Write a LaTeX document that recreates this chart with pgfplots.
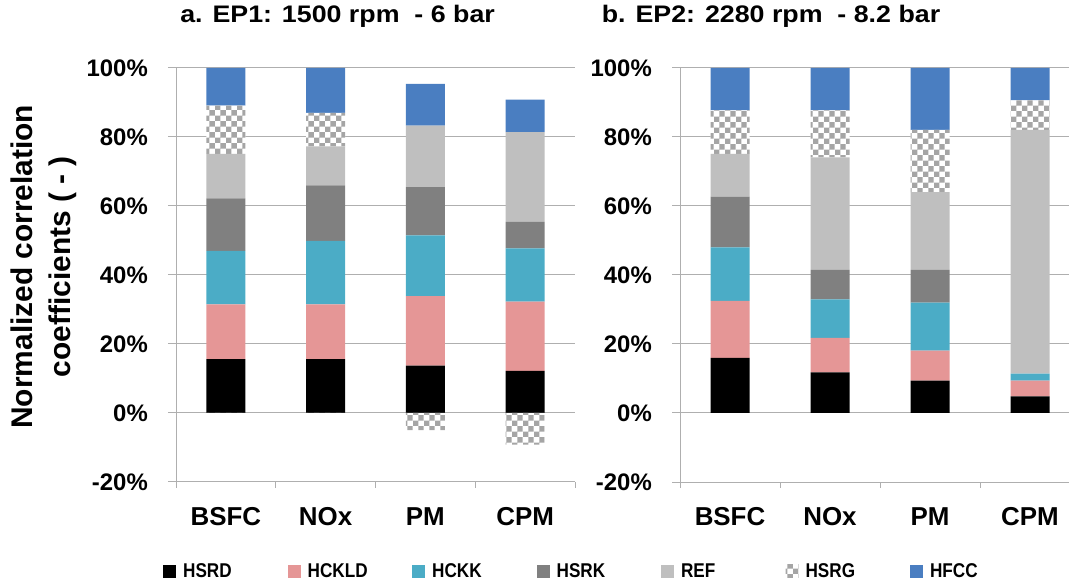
\documentclass[border=0pt]{standalone}
\usepackage{graphicx}
\usepackage{pgfplots}
\pgfplotsset{compat=1.18}
\usepackage{pgfplotstable}
\usepackage{fontspec}
\setmainfont{Liberation Sans}
\usetikzlibrary{patterns}

\definecolor{cHSRD}{RGB}{0,0,0}
\definecolor{cHCKLD}{RGB}{229,150,150}
\definecolor{cHCKK}{RGB}{75,172,198}
\definecolor{cHSRK}{RGB}{128,128,128}
\definecolor{cREF}{RGB}{191,191,191}
\definecolor{cHSRG}{RGB}{165,165,165}
\definecolor{cHFCC}{RGB}{74,126,193}
\definecolor{gridgray}{RGB}{175,175,175}

% normalized correlation shares (%), HSRGn holds the negative part of HSRG
\pgfplotstableread{
x HSRD HCKLD HCKK HSRK REF HSRG HFCC HSRGn
0 15.6 15.9 15.5 15.2 12.9 14.0 10.9 0
1 15.6 15.9 18.4 16.1 11.3 9.7 13.0 0
2 13.7 20.2 17.6 14.0 17.8 0 12.1 -5.0
3 12.2 20.1 15.4 7.7 26.0 0 9.4 -9.2
}\epone
\pgfplotstableread{
x HSRD HCKLD HCKK HSRK REF HSRG HFCC HSRGn
0 16.0 16.5 15.5 14.7 12.4 12.6 12.3 0
1 11.8 10.0 11.1 8.6 32.6 13.6 12.3 0
2 9.4 8.7 13.9 9.5 22.5 18.1 17.9 0
3 4.8 4.6 2.0 0 70.7 8.5 9.4 0
}\eptwo

\pgfplotsset{
  corrbase/.style={
    scale only axis, height=414bp, anchor=south west,
    ymin=-20, ymax=100, ytick={-20,0,...,100},
    xmin=-0.5,
    xtick={0,1,2,3}, xticklabels={BSFC,NOx,PM,CPM},
    minor xtick={-0.5,0.5,1.5,2.5,3.5},
    axis x line*=bottom, axis y line*=left,
    axis line style={gridgray, line width=1bp, -},
    ymajorgrids, grid style={gridgray, line width=1bp},
    major x tick style={draw=none},
    minor x tick style={gridgray, line width=1bp},
    major y tick style={gridgray, line width=1bp},
    tick align=outside, major tick length=8bp, minor tick length=6bp,
    /pgf/number format/assume math mode=true,
    yticklabel={\pgfmathprintnumber{\tick}\%},
    y tick label style={font=\bfseries\fontsize{24}{24}\selectfont, anchor=east, inner sep=0pt, xshift=-20bp},
    x tick label style={font=\bfseries\fontsize{26}{26}\selectfont, anchor=base, inner sep=0pt, yshift=-35bp},
    title style={font=\bfseries\fontsize{24}{24}\selectfont, xscale=1.12, anchor=center},
    ybar stacked, bar width=39bp,
  },
  negbase/.style={
    scale only axis, height=414bp, anchor=south west,
    ymin=-20, ymax=100, xmin=-0.5, hide axis,
    ybar, bar width=39bp,
  },
  legsq/.style={legend image code/.code={\path[##1] (0bp,-6.5bp) rectangle (13bp,6.5bp);}},
  sHSRD/.style={fill=cHSRD, draw=none, legsq},
  sHCKLD/.style={fill=cHCKLD, draw=none, legsq},
  sHCKK/.style={fill=cHCKK, draw=none, legsq},
  sHSRK/.style={fill=cHSRK, draw=none, legsq},
  sREF/.style={fill=cREF, draw=none, legsq},
  sHSRG/.style={fill=white, draw=none, postaction={pattern=checkerboard, pattern color=cHSRG}, legsq},
  sHFCC/.style={fill=cHFCC, draw=none, legsq},
}

\newcommand{\legtext}[1]{\makebox[102.5bp][l]{\scalebox{0.86}[1]{#1}}}

\begin{document}
\begin{tikzpicture}
\path[use as bounding box] (0,0) rectangle (1069bp,584bp);

% panel a: EP1
\begin{axis}[corrbase, width=399bp, xmax=3.5, at={(176bp,102bp)},
  title={a. EP1: 1500 rpm\ \ - 6 bar},
  title style={at={(axis description cs:0.405,1.111)}},
  ylabel={Normalized correlation\\coefficients ( - )},
  ylabel style={font=\bfseries\fontsize{30}{38}\selectfont, align=center,
    at={(axis description cs:-0.332,0.52)}, anchor=center},
  legend columns=7,
  legend style={draw=none, fill=none, at={(axis description cs:-0.0326,-0.215)}, anchor=west,
    inner sep=0pt, column sep=0pt, font=\bfseries\fontsize{20}{22}\selectfont,
    /tikz/every odd column/.append style={column sep=5bp}},
]
\addplot[sHSRD] table[x=x,y=HSRD]{\epone}; \addlegendentry{\legtext{HSRD}}
\addplot[sHCKLD] table[x=x,y=HCKLD]{\epone}; \addlegendentry{\legtext{HCKLD}}
\addplot[sHCKK] table[x=x,y=HCKK]{\epone}; \addlegendentry{\legtext{HCKK}}
\addplot[sHSRK] table[x=x,y=HSRK]{\epone}; \addlegendentry{\legtext{HSRK}}
\addplot[sREF] table[x=x,y=REF]{\epone}; \addlegendentry{\legtext{REF}}
\addplot[sHSRG] table[x=x,y=HSRG]{\epone}; \addlegendentry{\legtext{HSRG}}
\addplot[sHFCC] table[x=x,y=HFCC]{\epone}; \addlegendentry{\scalebox{0.86}[1]{HFCC}}
\end{axis}
\begin{axis}[negbase, width=399bp, xmax=3.5, at={(176bp,102bp)}]
\addplot[sHSRG, bar shift=0pt] table[x=x,y=HSRGn]{\epone};
\end{axis}

% panel b: EP2
\begin{axis}[corrbase, width=389bp, xmax=3.39, at={(680bp,102bp)},
  title={b. EP2: 2280 rpm\ \ - 8.2 bar},
  title style={at={(axis description cs:0.234,1.111)}},
]
\addplot[sHSRD] table[x=x,y=HSRD]{\eptwo};
\addplot[sHCKLD] table[x=x,y=HCKLD]{\eptwo};
\addplot[sHCKK] table[x=x,y=HCKK]{\eptwo};
\addplot[sHSRK] table[x=x,y=HSRK]{\eptwo};
\addplot[sREF] table[x=x,y=REF]{\eptwo};
\addplot[sHSRG] table[x=x,y=HSRG]{\eptwo};
\addplot[sHFCC] table[x=x,y=HFCC]{\eptwo};
\end{axis}
\end{tikzpicture}
\end{document}
